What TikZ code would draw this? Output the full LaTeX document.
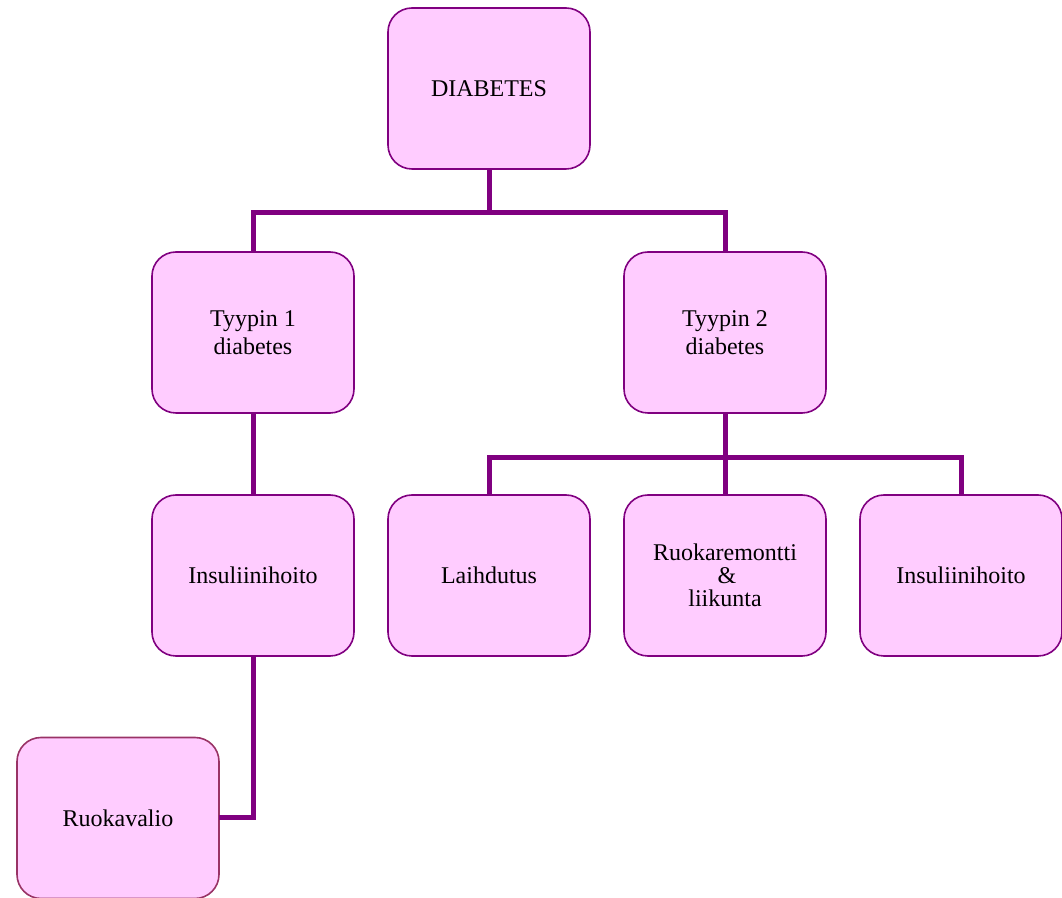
\documentclass[tikz,border=0pt]{standalone}
\usepackage{fontspec}
\setmainfont{Liberation Serif}
\usetikzlibrary{positioning}
\definecolor{boxfill}{HTML}{FFCCFF}
\definecolor{boxline}{HTML}{800080}
\definecolor{boxlineb}{HTML}{993366}

\begin{document}
\begin{tikzpicture}[
  x=0.5pt, y=-0.5pt,
  font=\fontsize{12}{11.5}\selectfont,
  box/.style={draw=boxline, fill=boxfill, line width=0.8pt, rounded corners=12pt, align=center,
    minimum width=101pt, minimum height=80.5pt, inner sep=2pt, outer sep=0pt},
  conn/.style={draw=boxline, line width=2.5pt}
]
  \useasboundingbox (0,0) rectangle (1062,898);
  % top
  \node[box] (diab) at (489,88.5) {DIABETES};
  % treatments row
  \node[box] (ins1) at (253,575.5) {Insuliinihoito};
  \node[box, right=17pt of ins1] (laih) {Laihdutus};
  \node[box, right=17pt of laih] (ruoka) {Ruokaremontti\\\hspace{2pt}\&\\liikunta};
  \node[box, right=17pt of ruoka] (ins2) {Insuliinihoito};
  % types
  \node[box, above=41pt of ins1] (tyyp1) {Tyypin 1\\[2.3pt]diabetes};
  \node[box, above=41pt of ruoka] (tyyp2) {Tyypin 2\\[2.3pt]diabetes};
  \node[box, draw=boxlineb] (ruokav) at (118,818) {Ruokavalio};

  \draw[conn] (diab.south) -- ++(0,44) -| (tyyp1.north);
  \draw[conn] (diab.south) -- ++(0,44) -| (tyyp2.north);
  \draw[conn] (tyyp1) -- (ins1);
  \draw[conn] (tyyp2.south) -- ++(0,45) -| (laih.north);
  \draw[conn] (tyyp2) -- (ruoka);
  \draw[conn] (tyyp2.south) -- ++(0,45) -| (ins2.north);
  \draw[conn] (ins1.south) |- (ruokav.east);
\end{tikzpicture}
\end{document}
